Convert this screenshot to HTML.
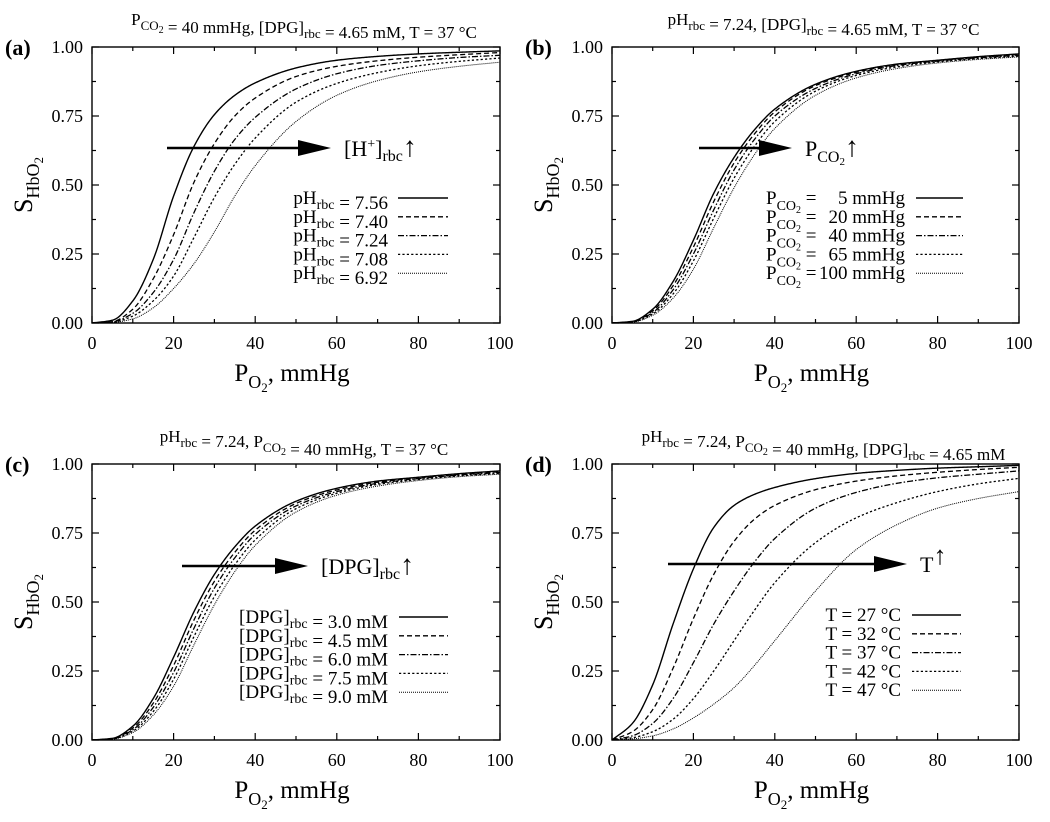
<!DOCTYPE html>
<html><head><meta charset="utf-8"><style>
html,body{margin:0;padding:0;background:#fff;}
svg{display:block;font-family:"Liberation Serif",serif;}
</style></head><body>
<svg id="fig" width="1050" height="822" viewBox="0 0 1050 822" xmlns="http://www.w3.org/2000/svg"></svg>
<script>
const xs = [0,5,10,15,20,25,30,35,40,50,60,70,80,90,100];
const xTicks = [0,20,40,60,80,100];
const yTicks = [0,0.25,0.5,0.75,1];
const yTickLabels = ["0.00","0.25","0.50","0.75","1.00"];
// Panel (a): pH series
const a1 = [0,0.01,0.08,0.23,0.46,0.64,0.755,0.825,0.87,0.924,0.952,0.966,0.975,0.981,0.986];
const a2 = [0,0.005,0.05,0.16,0.32,0.51,0.65,0.75,0.815,0.893,0.93,0.95,0.963,0.972,0.98];
const a3 = [0,0.004,0.035,0.11,0.23,0.40,0.55,0.665,0.745,0.848,0.903,0.933,0.95,0.962,0.97];
const a4 = [0,0.003,0.025,0.08,0.17,0.31,0.455,0.575,0.67,0.80,0.868,0.907,0.932,0.948,0.96];
const a5 = [0,0.002,0.015,0.055,0.125,0.215,0.33,0.46,0.57,0.73,0.825,0.878,0.91,0.93,0.945];
// Panel (b): PCO2 series
const b1 = [0,0.006,0.05,0.15,0.30,0.47,0.60,0.70,0.775,0.865,0.912,0.938,0.952,0.965,0.975];
const b2 = [0,0.005,0.044,0.135,0.275,0.44,0.58,0.685,0.765,0.86,0.908,0.936,0.951,0.963,0.973];
const b3 = [0,0.004,0.038,0.12,0.25,0.41,0.555,0.665,0.75,0.85,0.903,0.933,0.949,0.961,0.97];
const b4 = [0,0.004,0.033,0.105,0.225,0.38,0.525,0.64,0.73,0.84,0.897,0.928,0.946,0.958,0.967];
const b5 = [0,0.003,0.028,0.09,0.195,0.345,0.49,0.61,0.705,0.825,0.888,0.922,0.942,0.955,0.964];
// Panel (c): DPG series
const c1 = [0,0.006,0.05,0.15,0.30,0.465,0.60,0.70,0.775,0.865,0.912,0.938,0.952,0.965,0.975];
const c2 = [0,0.005,0.043,0.133,0.27,0.435,0.575,0.68,0.76,0.857,0.906,0.934,0.95,0.962,0.972];
const c3 = [0,0.004,0.037,0.118,0.245,0.405,0.55,0.66,0.745,0.848,0.9,0.93,0.947,0.96,0.969];
const c4 = [0,0.004,0.032,0.103,0.22,0.375,0.52,0.635,0.725,0.838,0.894,0.926,0.944,0.957,0.966];
const c5 = [0,0.003,0.027,0.09,0.195,0.345,0.49,0.61,0.705,0.826,0.887,0.92,0.94,0.954,0.963];
// Panel (d): temperature series
const d1 = [0,0.06,0.2,0.42,0.62,0.77,0.85,0.89,0.915,0.947,0.966,0.977,0.985,0.99,0.995];
const d2 = [0,0.03,0.11,0.26,0.44,0.6,0.72,0.8,0.85,0.907,0.938,0.957,0.97,0.98,0.988];
const d3 = [0,0.015,0.06,0.15,0.28,0.42,0.54,0.645,0.73,0.84,0.897,0.93,0.95,0.963,0.975];
const d4 = [0,0.008,0.03,0.075,0.15,0.25,0.36,0.47,0.57,0.715,0.805,0.86,0.9,0.928,0.948];
const d5 = [0,0.004,0.015,0.04,0.08,0.13,0.19,0.27,0.36,0.54,0.69,0.78,0.84,0.875,0.9];

const NS="http://www.w3.org/2000/svg";
const svg=document.getElementById('fig');
function mk(tag,attrs,parent){const e=document.createElementNS(NS,tag);for(const k in attrs)e.setAttribute(k,attrs[k]);(parent||svg).appendChild(e);return e;}
const styles=[
 {da:"",w:1.4},{da:"5,3",w:1.3},{da:"6,2,1.5,2",w:1.3},{da:"2.2,2.2",w:1.3},{da:"1,1",w:1}
];
function monoInterp(X,Y){
  const n=X.length,h=[],d=[],m=new Array(n);
  for(let i=0;i<n-1;i++){h[i]=X[i+1]-X[i];d[i]=(Y[i+1]-Y[i])/h[i];}
  m[0]=d[0];m[n-1]=d[n-2];
  for(let i=1;i<n-1;i++){
    if(d[i-1]*d[i]<=0)m[i]=0;
    else{const w1=2*h[i]+h[i-1],w2=h[i]+2*h[i-1];m[i]=(w1+w2)/(w1/d[i-1]+w2/d[i]);}
  }
  return function(x){
    let i=0;while(i<n-2&&x>X[i+1])i++;
    const t=(x-X[i])/h[i],t2=t*t,t3=t2*t;
    return (2*t3-3*t2+1)*Y[i]+(t3-2*t2+t)*h[i]*m[i]+(-2*t3+3*t2)*Y[i+1]+(t3-t2)*h[i]*m[i+1];
  };
}
function panel(opt){
  const L=opt.L,R=opt.R,T=opt.T,B=opt.B;
  const sx=v=>L+(R-L)*v/100, sy=v=>B-(B-T)*v;
  const g=mk('g',{});
  
  
  const cp=mk('clipPath',{id:'clip'+opt.id},g);mk('rect',{x:L,y:T-2,width:R-L,height:B-T+2},cp);
  const cg=mk('g',{'clip-path':'url(#clip'+opt.id+')'},g);
  opt.series.forEach((s,i)=>{
    const f=monoInterp(xs,s);let d="";
    for(let k=0;k<=400;k++){const x=k/4;d+=(k?"L":"M")+sx(x).toFixed(2)+","+sy(f(x)).toFixed(2);}
    const p=mk('path',{d:d,fill:'none',stroke:'#000','stroke-width':styles[i].w,'stroke-dasharray':styles[i].da},cg);
    
    
  });
  const fr=mk('rect',{x:L,y:T,width:R-L,height:B-T,fill:'none',stroke:'#000','stroke-width':1.4},g);
  
  
  for(let v=0;v<=100;v+=10){const x=sx(v),len=(v%20===0)?7:4;
    mk('line',{x1:x,y1:B,x2:x,y2:B-len,stroke:'#000','stroke-width':1.2},g);
    mk('line',{x1:x,y1:T,x2:x,y2:T+len,stroke:'#000','stroke-width':1.2},g);}
  for(let k=0;k<=8;k++){const v=k*0.125,y=sy(v),len=(k%2===0)?7:4;
    mk('line',{x1:L,y1:y,x2:L+len,y2:y,stroke:'#000','stroke-width':1.2},g);
    mk('line',{x1:R,y1:y,x2:R-len,y2:y,stroke:'#000','stroke-width':1.2},g);}
  xTicks.forEach(v=>{const t=mk('text',{x:sx(v),y:B+26,'font-size':18,'text-anchor':'middle'},g);t.textContent=v;
    
    });
  yTicks.forEach((v,i)=>{const t=mk('text',{x:L-9,y:sy(v)+6,'font-size':18,'text-anchor':'end'},g);t.textContent=yTickLabels[i];
    
    });
  opt.legend.forEach((lab,i)=>{const y=opt.legY+i*18.8;
    const t=mk('text',{x:opt.legTx,y:y+6,'font-size':19,'text-anchor':'end'},g);t.innerHTML=lab;
    
    
    if(opt.legPre){const t2=mk('text',{x:opt.legPre,y:y+6,'font-size':19},g);t2.innerHTML=opt.legPreLab;
      
      }
    const l=mk('line',{x1:opt.legL1,y1:y,x2:opt.legL2,y2:y,stroke:'#000','stroke-width':styles[i].w,'stroke-dasharray':styles[i].da},g);
    
    });
  const ay=opt.arrowY;
  mk('line',{x1:opt.ax1,y1:ay,x2:opt.ax2-30,y2:ay,stroke:'#000','stroke-width':2.4},g);
  const ah=mk('polygon',{points:(opt.ax2-33)+","+(ay-8)+" "+opt.ax2+","+ay+" "+(opt.ax2-33)+","+(ay+8)},g);
  
  
  const at=mk('text',{x:opt.ax2+13,y:ay+8,'font-size':22},g);at.innerHTML=opt.arrowLab;
  
  
  const tt=mk('text',{x:(L+R)/2+8,y:T-22,'font-size':17,'text-anchor':'middle'},g);tt.innerHTML=opt.title;
  
  
  const pl=mk('text',{x:L-87,y:T+8,'font-size':22,'font-weight':'bold'},g);pl.textContent=opt.letter;
  
  
  const xl=mk('text',{x:(L+R)/2-4,y:B+58,'font-size':25,'text-anchor':'middle'},g);
  xl.innerHTML='P<tspan font-size="18" dy="7">O</tspan><tspan font-size="13" dy="4">2</tspan><tspan dy="-11">,  mmHg</tspan>';
  
  
  const cy=(T+B)/2;
  const yl=mk('text',{x:0,y:0,'font-size':26,'text-anchor':'middle',transform:'translate('+(L-60)+','+cy+') rotate(-90)'},g);
  yl.innerHTML='S<tspan font-size="18" dy="7">HbO</tspan><tspan font-size="13" dy="4">2</tspan>';
  
  
}
const sub=(t)=>'<tspan font-size="13" dy="5">'+t+'</tspan><tspan dy="-5"></tspan>';
const subL=(t)=>'<tspan font-size="14" dy="5">'+t+'</tspan><tspan dy="-5"></tspan>';
const pco2='P<tspan font-size="13" dy="5">CO</tspan><tspan font-size="10" dy="3">2</tspan><tspan dy="-8"></tspan>';
const pco2L='P<tspan font-size="14" dy="6">CO</tspan><tspan font-size="10" dy="3">2</tspan><tspan dy="-9"> =</tspan>';
panel({id:'a',name:'panel-a',L:92,R:500,T:47,B:323,letter:'(a)',series:[a1,a2,a3,a4,a5],
  title:pco2+' = 40 mmHg, [DPG]'+sub('rbc')+' = 4.65 mM, T = 37 °C',
  legend:['pH'+subL('rbc')+' = 7.56','pH'+subL('rbc')+' = 7.40','pH'+subL('rbc')+' = 7.24','pH'+subL('rbc')+' = 7.08','pH'+subL('rbc')+' = 6.92'],
  legY:198,legTx:388,legL1:398,legL2:448,arrowY:148,ax1:167,ax2:331,
  arrowLab:'[H<tspan font-size="14" dy="-8">+</tspan><tspan dy="8">]</tspan><tspan font-size="16" dy="5">rbc</tspan><tspan dy="-5" font-size="28">↑</tspan>'});
panel({id:'b',name:'panel-b',L:612,R:1019,T:47,B:323,letter:'(b)',series:[b1,b2,b3,b4,b5],
  title:'pH'+sub('rbc')+' = 7.24, [DPG]'+sub('rbc')+' = 4.65 mM, T = 37 °C',
  legend:['5 mmHg','20 mmHg','40 mmHg','65 mmHg','100 mmHg'],legPre:766,legPreLab:pco2L,
  legY:198,legTx:905,legL1:916,legL2:963,arrowY:148,ax1:699,ax2:792,
  arrowLab:'P<tspan font-size="16" dy="6">CO</tspan><tspan font-size="11" dy="3">2</tspan><tspan dy="-9" font-size="28">↑</tspan>'});
panel({id:'c',name:'panel-c',L:92,R:500,T:464,B:740,letter:'(c)',series:[c1,c2,c3,c4,c5],
  title:'pH'+sub('rbc')+' = 7.24, '+pco2+' = 40 mmHg, T = 37 °C',
  legend:['[DPG]'+subL('rbc')+' = 3.0 mM','[DPG]'+subL('rbc')+' = 4.5 mM','[DPG]'+subL('rbc')+' = 6.0 mM','[DPG]'+subL('rbc')+' = 7.5 mM','[DPG]'+subL('rbc')+' = 9.0 mM'],
  legY:617,legTx:388,legL1:399,legL2:448,arrowY:566,ax1:182,ax2:308,
  arrowLab:'[DPG]<tspan font-size="16" dy="5">rbc</tspan><tspan dy="-5" font-size="28">↑</tspan>'});
panel({id:'d',name:'panel-d',L:612,R:1019,T:464,B:740,letter:'(d)',series:[d1,d2,d3,d4,d5],
  title:'pH'+sub('rbc')+' = 7.24, '+pco2+' = 40 mmHg, [DPG]'+sub('rbc')+' = 4.65 mM',
  legend:['T = 27 °C','T = 32 °C','T = 37 °C','T = 42 °C','T = 47 °C'],
  legY:615,legTx:901,legL1:912,legL2:961,arrowY:564,ax1:668,ax2:907,
  arrowLab:'T<tspan dy="-8" font-size="26">↑</tspan>'});
</script>
</body></html>
